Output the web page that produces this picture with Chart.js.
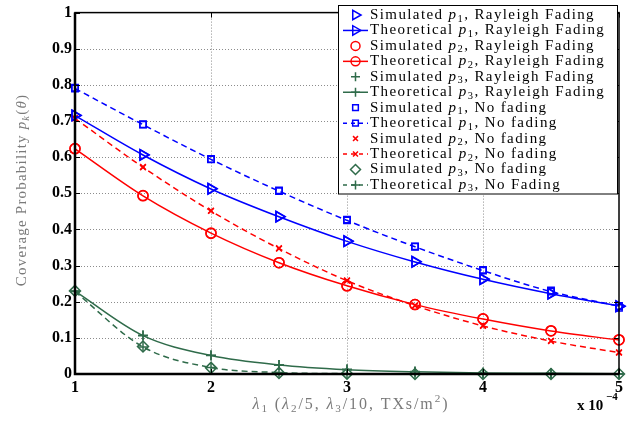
<!DOCTYPE html>
<html>
<head>
<meta charset="utf-8">
<script src="https://cdn.jsdelivr.net/npm/chart.js@4.4.0/dist/chart.umd.min.js"></script>
<style>
  body { margin: 0; background: #fff; }
  #wrap { width: 636px; height: 422px; }
</style>
</head>
<body>
<div id="wrap"><canvas id="chart"></canvas></div>
<script>
// lambda_1 values (x 10^-4)
const lambda1 = [1, 1.5, 2, 2.5, 3, 3.5, 4, 4.5, 5];

const simP1Rayleigh = [0.716, 0.607, 0.513, 0.436, 0.368, 0.311, 0.263, 0.223, 0.187];
const thP1Rayleigh  = [0.715, 0.606, 0.512, 0.435, 0.367, 0.310, 0.262, 0.222, 0.188];
const simP2Rayleigh = [0.624, 0.494, 0.389, 0.308, 0.244, 0.192, 0.153, 0.120, 0.095];
const thP2Rayleigh  = [0.623, 0.493, 0.390, 0.308, 0.244, 0.192, 0.152, 0.119, 0.094];
const simP3Rayleigh = [0.230, 0.107, 0.052, 0.025, 0.013, 0.007, 0.004, 0.002, 0.001];
const thP3Rayleigh  = [0.229, 0.106, 0.051, 0.025, 0.012, 0.006, 0.003, 0.002, 0.001];

const simP1NoFading = [0.792, 0.691, 0.595, 0.508, 0.427, 0.353, 0.288, 0.231, 0.183];
const thP1NoFading  = [0.790, 0.690, 0.594, 0.506, 0.425, 0.352, 0.286, 0.228, 0.188];
const simP2NoFading = [0.708, 0.573, 0.452, 0.348, 0.259, 0.190, 0.134, 0.092, 0.060];
const thP2NoFading  = [0.707, 0.572, 0.451, 0.347, 0.258, 0.189, 0.133, 0.091, 0.059];
const simP3NoFading = [0.230, 0.076, 0.017, 0.003, 0.001, 0.000, 0.000, 0.000, 0.000];
const thP3NoFading  = [0.228, 0.075, 0.018, 0.004, 0.001, 0.000, 0.000, 0.000, 0.000];

const xTicks = [1, 2, 3, 4, 5];
const yTicks = [0, 0.1, 0.2, 0.3, 0.4, 0.5, 0.6, 0.7, 0.8, 0.9, 1];

const BLUE = '#0000ff';
const RED = '#ff0000';
const GREEN = '#2f6b4a';
const SERIF = '"Liberation Serif", "Times New Roman", serif';

const series = [
    { kind: 'Simulated',   p: '1', suffix: 'Rayleigh Fading', data: simP1Rayleigh, color: BLUE,  marker: 'triangle', rot: 90, r: 6,   line: false },
    { kind: 'Theoretical', p: '1', suffix: 'Rayleigh Fading', data: thP1Rayleigh,  color: BLUE,  marker: 'triangle', rot: 90, r: 6,   line: 'solid' },
    { kind: 'Simulated',   p: '2', suffix: 'Rayleigh Fading', data: simP2Rayleigh, color: RED,   marker: 'circle',   rot: 0,  r: 5,   line: false },
    { kind: 'Theoretical', p: '2', suffix: 'Rayleigh Fading', data: thP2Rayleigh,  color: RED,   marker: 'circle',   rot: 0,  r: 5,   line: 'solid' },
    { kind: 'Simulated',   p: '3', suffix: 'Rayleigh Fading', data: simP3Rayleigh, color: GREEN, marker: 'cross',    rot: 0,  r: 5,   line: false },
    { kind: 'Theoretical', p: '3', suffix: 'Rayleigh Fading', data: thP3Rayleigh,  color: GREEN, marker: 'cross',    rot: 0,  r: 5,   line: 'solid' },
    { kind: 'Simulated',   p: '1', suffix: 'No fading',       data: simP1NoFading, color: BLUE,  marker: 'rect',     rot: 0,  r: 4.5, line: false },
    { kind: 'Theoretical', p: '1', suffix: 'No fading',       data: thP1NoFading,  color: BLUE,  marker: 'rect',     rot: 0,  r: 4.5, line: 'dash' },
    { kind: 'Simulated',   p: '2', suffix: 'No fading',       data: simP2NoFading, color: RED,   marker: 'crossRot', rot: 0,  r: 4,   line: false },
    { kind: 'Theoretical', p: '2', suffix: 'No fading',       data: thP2NoFading,  color: RED,   marker: 'crossRot', rot: 0,  r: 4,   line: 'dash' },
    { kind: 'Simulated',   p: '3', suffix: 'No fading',       data: simP3NoFading, color: GREEN, marker: 'rectRot',  rot: 0,  r: 5.5, line: false },
    { kind: 'Theoretical', p: '3', suffix: 'No Fading',       data: thP3NoFading,  color: GREEN, marker: 'cross',    rot: 0,  r: 5,   line: 'dash' }
];

function font(size, style, weight) {
    return `${style || 'normal'} ${weight || 'normal'} ${size}px ${SERIF}`;
}

// text built from parts like ['p', 'i'] or ['1', 'sub']
function richText(ctx, x, y, parts, size, align, spacing) {
    const fmt = kind => {
        if (kind === 'i') return { f: font(size, 'italic'), dy: 0 };
        if (kind === 'sub') return { f: font(size * 0.7), dy: size * 0.25 };
        if (kind === 'isub') return { f: font(size * 0.7, 'italic'), dy: size * 0.25 };
        if (kind === 'sup') return { f: font(size * 0.7), dy: -size * 0.38 };
        return { f: font(size), dy: 0 };
    };
    ctx.letterSpacing = (spacing || 0) + 'px';
    let total = 0;
    parts.forEach(p => { ctx.font = fmt(p[1]).f; total += ctx.measureText(p[0]).width; });
    let cx = align === 'center' ? x - total / 2 : x;
    ctx.textBaseline = 'middle';
    ctx.textAlign = 'left';
    parts.forEach(p => {
        const s = fmt(p[1]);
        ctx.font = s.f;
        ctx.fillText(p[0], cx, y + s.dy);
        cx += ctx.measureText(p[0]).width;
    });
    ctx.letterSpacing = '0px';
    return total;
}

const framePlugin = {
    id: 'frame',
    beforeDatasetsDraw(chart) {
        // dotted grid
        const ctx = chart.ctx;
        const a = chart.chartArea;
        const xs = chart.scales.x, ys = chart.scales.y;
        ctx.save();
        ctx.strokeStyle = '#8c8c8c';
        ctx.lineWidth = 1;
        ctx.setLineDash([1, 2]);
        ctx.beginPath();
        yTicks.slice(1, -1).forEach(v => {
            const py = Math.round(ys.getPixelForValue(v)) + 0.5;
            ctx.moveTo(a.left, py); ctx.lineTo(a.right, py);
        });
        xTicks.slice(1, -1).forEach(v => {
            const px = Math.round(xs.getPixelForValue(v)) + 0.5;
            ctx.moveTo(px, a.top); ctx.lineTo(px, a.bottom);
        });
        ctx.stroke();
        ctx.restore();
    },
    afterDraw(chart) {
        const ctx = chart.ctx;
        const a = chart.chartArea;
        const xs = chart.scales.x, ys = chart.scales.y;
        ctx.save();
        // inward tick marks
        ctx.strokeStyle = '#000';
        ctx.lineWidth = 1;
        ctx.beginPath();
        yTicks.forEach(v => {
            const py = Math.round(ys.getPixelForValue(v)) + 0.5;
            ctx.moveTo(a.left, py); ctx.lineTo(a.left + 5, py);
            ctx.moveTo(a.right, py); ctx.lineTo(a.right - 5, py);
        });
        xTicks.forEach(v => {
            const px = Math.round(xs.getPixelForValue(v)) + 0.5;
            ctx.moveTo(px, a.bottom); ctx.lineTo(px, a.bottom - 5);
            ctx.moveTo(px, a.top); ctx.lineTo(px, a.top + 5);
        });
        ctx.stroke();
        // box
        ctx.lineWidth = 1.5;
        ctx.strokeRect(a.left, a.top, a.right - a.left, a.bottom - a.top);
        ctx.lineWidth = 2.5;
        ctx.beginPath();
        ctx.moveTo(a.left, a.top); ctx.lineTo(a.left, a.bottom); ctx.lineTo(a.right, a.bottom);
        ctx.stroke();

        // legend box
        const lx = 338, ly = 5.5, lw = 279, lh = 188.5;
        ctx.fillStyle = '#fff';
        ctx.fillRect(lx, ly, lw, lh);
        ctx.lineWidth = 1;
        ctx.strokeStyle = '#000';
        ctx.strokeRect(lx + 0.5, ly, lw, lh);
        series.forEach((s, i) => {
            const y = 15 + i * 15.45;
            ctx.strokeStyle = s.color;
            ctx.fillStyle = 'rgba(0,0,0,0)';
            ctx.lineWidth = 1.5;
            if (s.line) {
                ctx.setLineDash(s.line === 'dash' ? [4, 4] : []);
                ctx.beginPath();
                ctx.moveTo(343, y); ctx.lineTo(368, y);
                ctx.stroke();
                ctx.setLineDash([]);
            }
            Chart.helpers.drawPoint(ctx, {
                pointStyle: s.marker, rotation: s.rot, radius: s.r - 0.5, borderWidth: 1.5
            }, 355.5, y);
            ctx.fillStyle = '#000';
            richText(ctx, 370, y, [[s.kind + ' ', 'n'], ['p', 'i'], [s.p, 'sub'], [', ' + s.suffix, 'n']], 15, 'left', 1.4);
        });

        // axis titles
        ctx.fillStyle = '#7a7a7a';
        richText(ctx, 351, 405, [['λ', 'i'], ['1', 'sub'], [' (', 'n'], ['λ', 'i'], ['2', 'sub'], ['/5, ', 'n'],
            ['λ', 'i'], ['3', 'sub'], ['/10, TXs/m', 'n'], ['2', 'sup'], [')', 'n']], 16, 'center', 1.9);
        ctx.save();
        ctx.translate(22, 190);
        ctx.rotate(-Math.PI / 2);
        richText(ctx, 0, 0, [['Coverage Probability ', 'n'], ['p', 'i'], ['k', 'isub'], ['(', 'n'], ['θ', 'i'], [')', 'n']], 15, 'center', 1.2);
        ctx.restore();

        // exponent
        ctx.fillStyle = '#000';
        ctx.textBaseline = 'middle';
        ctx.textAlign = 'left';
        ctx.font = font(15, 'normal', 'bold');
        ctx.fillText('x 10', 577, 406);
        ctx.font = font(11, 'normal', 'bold');
        ctx.fillText('−4', 606, 397);
        ctx.restore();
    }
};

const datasets = series.map(s => ({
    label: `${s.kind} p${s.p}, ${s.suffix}`,
    data: lambda1.map((x, i) => ({ x: x, y: s.data[i] })),
    showLine: !!s.line,
    borderColor: s.color,
    borderWidth: 1.5,
    borderDash: s.line === 'dash' ? [6, 4] : [],
    cubicInterpolationMode: 'monotone',
    backgroundColor: 'rgba(0,0,0,0)',
    pointStyle: s.marker,
    pointRotation: s.rot,
    pointRadius: s.r,
    pointBorderWidth: 1.5,
    pointBorderColor: s.color,
    pointBackgroundColor: 'rgba(0,0,0,0)',
    clip: false
}));

new Chart(document.getElementById('chart'), {
    type: 'line',
    data: { datasets: datasets },
    options: {
        responsive: true,
        maintainAspectRatio: false,
        animation: false,
        layout: { padding: { left: 0, right: 17, top: 6, bottom: 0 } },
        plugins: {
            legend: { display: false },
            tooltip: { enabled: false }
        },
        scales: {
            x: {
                type: 'linear',
                min: 1,
                max: 5,
                afterFit: scale => { scale.height = 48; },
                afterBuildTicks: scale => { scale.ticks = xTicks.map(v => ({ value: v })); },
                grid: { display: false, drawTicks: false },
                border: { display: false },
                ticks: {
                    color: '#000',
                    padding: 4,
                    maxRotation: 0,
                    font: { family: SERIF, size: 16, weight: 'bold' }
                }
            },
            y: {
                min: 0,
                max: 1,
                afterFit: scale => { scale.width = 75; },
                afterBuildTicks: scale => { scale.ticks = yTicks.map(v => ({ value: v })); },
                grid: { display: false, drawTicks: false },
                border: { display: false },
                ticks: {
                    color: '#000',
                    padding: 3,
                    font: { family: SERIF, size: 16, weight: 'bold' },
                    callback: v => (v === 0 || v === 1) ? String(v) : v.toFixed(1)
                }
            }
        }
    },
    plugins: [framePlugin]
});
</script>
</body>
</html>
